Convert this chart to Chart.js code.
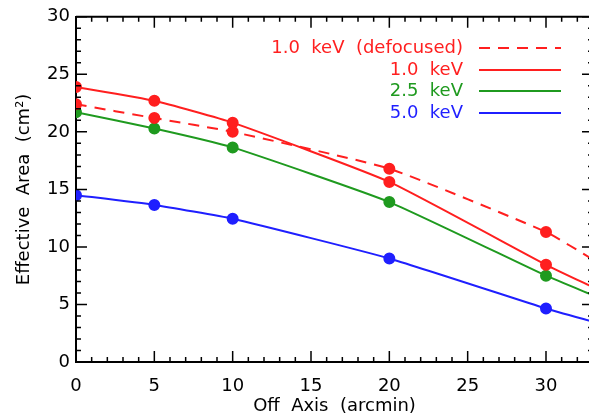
<!DOCTYPE html>
<html>
<head>
<meta charset="utf-8">
<script src="https://cdn.jsdelivr.net/npm/chart.js@4.4.1/dist/chart.umd.min.js"></script>
<style>
  html, body { margin: 0; padding: 0; overflow: hidden; background: #fff; }
  #wrap { width: 600px; height: 420px; }
</style>
</head>
<body>
<div id="wrap"><canvas id="c"></canvas></div>
<script>
// off-axis angle (arcmin); last entry is where the curves leave the frame
const offAxis = [0, 5, 10, 20, 30, 33];

const defocused10 = [22.4, 21.2, 20.0, 16.8, 11.3, 8.9];
const area10 = [23.9, 22.7, 20.8, 15.65, 8.45, 6.5];
const area25 = [21.7, 20.3, 18.65, 13.9, 7.5, 5.8];
const area50 = [14.5, 13.65, 12.45, 9.0, 4.65, 3.5];

const seriesLabels = ['1.0  keV  (defocused)', '1.0  keV', '2.5  keV', '5.0  keV'];
const xTicks = [0, 5, 10, 15, 20, 25, 30];
const yTicks = [0, 5, 10, 15, 20, 25, 30];

const RED = '#ff1f1f', GREEN = '#1f9a1f', BLUE = '#1f1fff';
const FONT = 'DejaVu Sans';

function pts(vals) {
  return vals.map((v, i) => ({ x: offAxis[i], y: v }));
}
// markers only at the measured angles
const radii = offAxis.map(x => (x <= 30 ? 5 : 0));

function series(label, vals, color, dash) {
  return {
    label: label,
    data: pts(vals),
    borderColor: color,
    backgroundColor: color,
    pointBackgroundColor: color,
    pointBorderColor: color,
    pointRadius: radii,
    pointHoverRadius: radii,
    borderWidth: 2,
    borderDash: dash || [],
    tension: 0.15,
    fill: false,
  };
}

// IDL style box with inward ticks + custom legend
const boxPlugin = {
  id: 'box',
  afterDraw(chart) {
    const { ctx, chartArea: a, scales } = chart;
    const xs = scales.x, ys = scales.y;
    ctx.save();
    ctx.strokeStyle = '#000';
    ctx.lineWidth = 2;
    ctx.beginPath();
    ctx.moveTo(a.left, a.top); ctx.lineTo(a.right, a.top); ctx.lineTo(a.right, a.bottom);
    ctx.stroke();
    ctx.lineWidth = 1.5;
    ctx.beginPath();
    for (let v = 0; v <= 33; v++) {
      const px = xs.getPixelForValue(v);
      const len = v % 5 === 0 ? 11 : 5;
      ctx.moveTo(px, a.bottom); ctx.lineTo(px, a.bottom - len);
      ctx.moveTo(px, a.top); ctx.lineTo(px, a.top + len);
    }
    for (let v = 0; v <= 30; v++) {
      const py = ys.getPixelForValue(v);
      const len = v % 5 === 0 ? 11 : 5;
      ctx.moveTo(a.left, py); ctx.lineTo(a.left + len, py);
      ctx.moveTo(a.right, py); ctx.lineTo(a.right - len, py);
    }
    ctx.stroke();

    // legend
    const rows = [48, 70, 91, 113];
    ctx.font = '18px "' + FONT + '"';
    ctx.textAlign = 'right';
    ctx.textBaseline = 'middle';
    chart.data.datasets.forEach((ds, i) => {
      const y = rows[i];
      ctx.fillStyle = ds.borderColor;
      ctx.fillText(ds.label, 463, y);
      ctx.strokeStyle = ds.borderColor;
      ctx.lineWidth = 2;
      ctx.setLineDash(ds.borderDash);
      ctx.beginPath();
      ctx.moveTo(479, y); ctx.lineTo(561, y);
      ctx.stroke();
      ctx.setLineDash([]);
    });
    ctx.restore();
  }
};

new Chart(document.getElementById('c'), {
  type: 'line',
  data: {
    datasets: [
      series(seriesLabels[0], defocused10, RED, [11, 8]),
      series(seriesLabels[1], area10, RED),
      series(seriesLabels[2], area25, GREEN),
      series(seriesLabels[3], area50, BLUE),
    ]
  },
  options: {
    responsive: true,
    maintainAspectRatio: false,
    animation: false,
    layout: { padding: { top: 12, right: 4, left: 0, bottom: 0 } },
    plugins: { legend: { display: false }, tooltip: { enabled: false } },
    scales: {
      x: {
        type: 'linear',
        min: 0, max: 33,
        grid: { display: false, drawTicks: false },
        border: { display: true, color: '#000', width: 2 },
        afterBuildTicks: s => { s.ticks = xTicks.map(v => ({ value: v })); },
        afterFit: s => { s.height = 58; },
        ticks: { color: '#000', padding: 14, font: { family: FONT, size: 18 } },
        title: {
          display: true, text: 'Off  Axis  (arcmin)', color: '#000',
          font: { family: FONT, size: 18 }, padding: { top: 0, bottom: 3 }
        }
      },
      y: {
        min: 0, max: 30,
        grid: { display: false, drawTicks: false },
        border: { display: true, color: '#000', width: 2 },
        afterBuildTicks: s => { s.ticks = yTicks.map(v => ({ value: v })); },
        afterFit: s => { s.width = 76; },
        ticks: { color: '#000', padding: 6, font: { family: FONT, size: 18 } },
        title: {
          display: true, text: 'Effective  Area  (cm²)', color: '#000',
          font: { family: FONT, size: 18 }, padding: { top: 14, bottom: 0 }
        }
      }
    }
  },
  plugins: [boxPlugin]
});
</script>
</body>
</html>
